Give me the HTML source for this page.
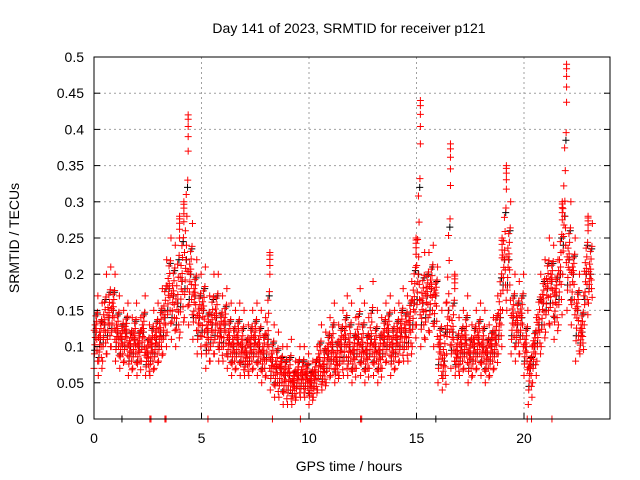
<!DOCTYPE html>
<html><head><meta charset="utf-8"><style>
body{margin:0;background:#fff}
svg{display:block;font-family:"Liberation Sans","DejaVu Sans",sans-serif}
</style></head><body>
<svg id="chart" width="640" height="480" viewBox="0 0 640 480">
<rect width="640" height="480" fill="#fff"/>
<g id="grid"></g>
<g id="marks"></g>
<rect x="94" y="57" width="516" height="362" fill="none" stroke="#000" stroke-width="1"/>
<g id="ticks"></g>
<text x="349" y="33" text-anchor="middle" font-size="14">Day 141 of 2023, SRMTID for receiver p121</text>
<text x="349" y="471" text-anchor="middle" font-size="14">GPS time / hours</text>
<text transform="translate(19,238) rotate(-90)" text-anchor="middle" font-size="14">SRMTID / TECUs</text>
</svg>
<script>
const xTicks=[0,5,10,15,20];
const yTicks=[0,0.05,0.1,0.15,0.2,0.25,0.3,0.35,0.4,0.45,0.5];
const yTickLabels=["0","0.05","0.1","0.15","0.2","0.25","0.3","0.35","0.4","0.45","0.5"];
const binStart=0, binStep=0.2;
const midVals=[.12,.11,.13,.14,.15,.12,.11,.12,.10,.11,
.10,.12,.09,.10,.11,.12,.14,.18,.17,.16,
.19,.22,.20,.17,.14,.15,.12,.13,.14,.12,
.13,.11,.10,.11,.10,.09,.10,.11,.10,.09,
.11,.08,.07,.07,.06,.06,.05,.06,.06,.06,
.05,.06,.08,.07,.09,.10,.08,.10,.11,.10,
.09,.11,.10,.09,.11,.10,.09,.11,.12,.10,
.11,.12,.12,.13,.16,.20,.16,.17,.18,.17,
.10,.08,.15,.12,.09,.10,.11,.09,.10,.11,
.10,.09,.10,.11,.14,.22,.22,.14,.13,.14,
.10,.07,.10,.13,.16,.18,.19,.17,.20,.28,
.22,.20,.15,.12,.20,.20];
const hiVals=[.17,.16,.2,.21,.2,.17,.15,.16,.14,.16,
.14,.17,.13,.15,.16,.18,.22,.25,.24,.28,
.3,.42,.27,.22,.2,.21,.17,.2,.2,.17,
.18,.16,.15,.16,.15,.13,.15,.16,.15,.14,
.23,.13,.12,.1,.1,.11,.08,.1,.1,.09,
.08,.1,.13,.12,.14,.16,.13,.15,.17,.16,
.14,.18,.16,.14,.19,.15,.14,.16,.17,.15,
.16,.18,.17,.19,.25,.44,.23,.23,.24,.21,
.15,.16,.38,.2,.14,.15,.17,.13,.15,.16,
.15,.13,.14,.17,.25,.35,.3,.2,.19,.2,
.15,.1,.14,.2,.22,.25,.24,.22,.3,.49,
.3,.25,.2,.17,.28,.27];
const loVals=[.07,.06,.08,.09,.1,.08,.07,.08,.06,.07,
.06,.08,.06,.06,.07,.08,.09,.12,.11,.1,
.12,.14,.13,.11,.09,.09,.07,.08,.09,.08,
.08,.07,.06,.07,.06,.06,.06,.07,.06,.05,
.06,.04,.03,.03,.02,.02,.02,.03,.03,.03,
.02,.03,.04,.04,.05,.06,.05,.06,.06,.06,
.05,.07,.06,.05,.07,.06,.05,.07,.08,.06,
.07,.08,.08,.08,.1,.13,.1,.11,.12,.1,
.05,.04,.09,.07,.06,.06,.07,.05,.06,.07,
.06,.05,.06,.07,.09,.15,.15,.09,.08,.09,
.06,.02,.05,.08,.1,.12,.13,.11,.13,.2,
.15,.13,.08,.09,.13,.16];
const zeroTimesRed=[2.6,2.65,3.3,3.35,5.3,8.3,9.6,12.4,12.45,20.15,20.35,21.3];
const zeroTimesBlack=[1.3,15.9];

const NS="http://www.w3.org/2000/svg";
const X0=94,X1=610,Y0=419,Y1=57,XMAX=24,YMAX=0.5;
const xs=t=>X0+(t/XMAX)*(X1-X0);
const ys=v=>Y0-(v/YMAX)*(Y0-Y1);
const grid=document.getElementById('grid'),ticks=document.getElementById('ticks'),marks=document.getElementById('marks');
function mk(tag,attrs,parent){const e=document.createElementNS(NS,tag);for(const k in attrs)e.setAttribute(k,attrs[k]);parent.appendChild(e);return e;}
xTicks.forEach(t=>{
 const x=xs(t);
 if(t>0){const g=mk('line',{x1:x,x2:x,y1:Y1,y2:Y0,stroke:'#a0a0a0','stroke-dasharray':'2,3'},grid);
 
 }
 const tk=mk('line',{x1:x,x2:x,y1:Y0,y2:Y0-6,stroke:'#000'},ticks);
 
 
 const lb=mk('text',{x:x,y:Y0+24,'text-anchor':'middle','font-size':'14'},ticks);
 lb.textContent=String(t);
 
 
});
yTicks.forEach((v,i)=>{
 const y=ys(v);
 if(v>0&&v<YMAX){const g=mk('line',{x1:X0,x2:X1,y1:y,y2:y,stroke:'#a0a0a0','stroke-dasharray':'2,3'},grid);
 
 }
 const tk=mk('line',{x1:X0,x2:X0+6,y1:y,y2:y,stroke:'#000'},ticks);
 
 
 const tk2=mk('line',{x1:X1,x2:X1-6,y1:y,y2:y,stroke:'#000'},ticks);
 
 
 const lb=mk('text',{x:X0-10,y:y+5,'text-anchor':'end','font-size':'14'},ticks);
 lb.textContent=yTickLabels[i];
 
 
});
function plus(t,v,color){
 const x=xs(t),y=ys(v);
 const p=mk('path',{d:`M${x-3.5},${y}h7M${x},${y-3.5}v7`,stroke:color,'stroke-width':'1',fill:'none'},marks);
 
 
}
// layout of marks within a bin: [time offset, blend position -1=lo..0=mid..1=hi]
const spreadLayout=[[0,-1],[0.02,-0.6],[0.04,-0.35],[0.06,-0.15],[0.08,0],[0.1,0.1],[0.12,0.3],[0.14,-0.5],[0.16,0.55],[0.18,1],[0.05,0.2],[0.13,-0.2],[0.17,-0.8],[0.09,0.45],[0.01,0.05]];
function at(lo,m,hi,f){return f<0?m+(m-lo)*f:m+(hi-m)*f;}
midVals.forEach((m,i)=>{const t=binStart+i*binStep;plus(t+0.1,m,'#000');plus(t+0.03,(loVals[i]+m)/2,'#000');plus(t+0.15,(hiVals[i]+m)/2,'#000');});
zeroTimesBlack.forEach(t=>plus(t,0,'#000'));
midVals.forEach((m,i)=>{
 const t=binStart+i*binStep,lo=loVals[i],hi=hiVals[i];
 spreadLayout.forEach(([dt,f])=>plus(t+dt,at(lo,m,hi,f),'#f00'));
 if(hi-m>0.08){
  // spike column
  [0.75,0.85,0.92,0.97].forEach(f=>plus(t+0.18,at(lo,m,hi,f),'#f00'));
 }
});
zeroTimesRed.forEach(t=>plus(t,0,'#f00'));
</script>
</body></html>
